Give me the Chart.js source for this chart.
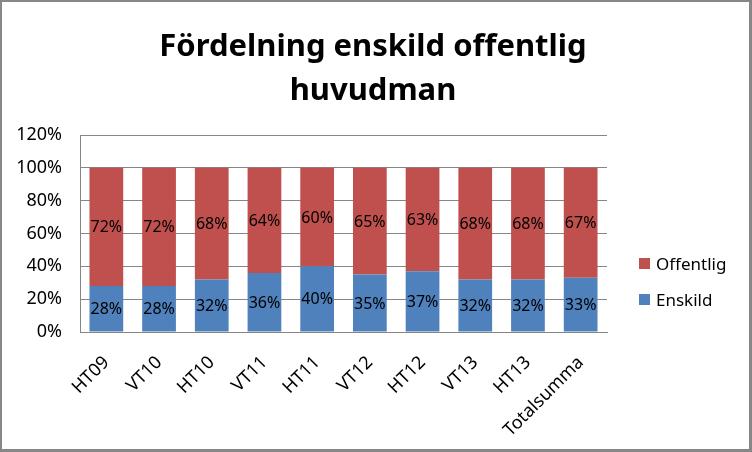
<!DOCTYPE html>
<html>
<head>
<meta charset="utf-8">
<script src="https://cdn.jsdelivr.net/npm/chart.js@4"></script>
<style>
  body { margin: 0; background: #fff; }
  #frame {
    position: relative; width: 747px; height: 447px;
    border-style: solid; border-color: #878787; border-width: 2px 3px 3px 2px;
    font-family: 'Noto Sans', sans-serif;
  }
  #title {
    position: absolute; left: 0; top: 20px; width: 742px;
    text-align: center; font-size: 31px; font-weight: bold; line-height: 44px; color: #000;
  }
  #legend { position: absolute; left: 637px; top: 249px; }
  .item { display: flex; align-items: center; height: 24px; margin-bottom: 12px; font-size: 17px; color: #000; }
  .swatch { width: 11px; height: 11px; margin-right: 6px; }
</style>
</head>
<body>
<div id="frame">
  <canvas id="chart" width="747" height="447"></canvas>
  <div id="title"></div>
  <div id="legend"></div>
</div>
<script>
const categories = ['HT09', 'VT10', 'HT10', 'VT11', 'HT11', 'VT12', 'HT12', 'VT13', 'HT13', 'Totalsumma'];
const enskild = [28, 28, 32, 36, 40, 35, 37, 32, 32, 33];
const offentlig = [72, 72, 68, 64, 60, 65, 63, 68, 68, 67];
const titleLines = ['Fördelning enskild offentlig', 'huvudman'];
const yMax = 120;
const yStep = 20;

const BLUE = '#4F81BD';
const RED = '#C0504D';
const GRID = '#868686';

Chart.defaults.font.family = "'Noto Sans', sans-serif";

// draws the percentage in the middle of each stacked segment
const barLabels = {
  id: 'barLabels',
  afterDatasetsDraw(chart) {
    const ctx = chart.ctx;
    ctx.save();
    ctx.font = '16px "Noto Sans"';
    ctx.fillStyle = '#000';
    ctx.textAlign = 'center';
    ctx.textBaseline = 'middle';
    chart.data.datasets.forEach((ds, i) => {
      chart.getDatasetMeta(i).data.forEach((bar, j) => {
        const { x, y, base } = bar.getProps(['x', 'y', 'base'], true);
        ctx.fillText(ds.data[j] + '%', x, (y + base) / 2 + 1);
      });
    });
    ctx.restore();
  }
};

const datasets = [
  { label: 'Enskild', data: enskild, backgroundColor: BLUE },
  { label: 'Offentlig', data: offentlig, backgroundColor: RED }
];

new Chart(document.getElementById('chart'), {
  type: 'bar',
  data: {
    labels: categories,
    datasets: datasets.map(d => ({ ...d, categoryPercentage: 1, barPercentage: 0.64, borderWidth: 0 }))
  },
  options: {
    responsive: false,
    animation: false,
    devicePixelRatio: 1,
    layout: { padding: { left: 0, right: 142, top: 133, bottom: 0 } },
    plugins: {
      legend: { display: false },
      tooltip: { enabled: false }
    },
    scales: {
      x: {
        stacked: true,
        grid: { display: false },
        border: { display: true, color: GRID },
        ticks: { color: '#000', font: { size: 18 }, minRotation: 45, maxRotation: 45, padding: 12 },
        afterFit(s) { s.height = 117; }
      },
      y: {
        stacked: true,
        min: 0,
        max: yMax,
        grid: { color: GRID, drawTicks: false },
        border: { display: true, color: GRID },
        ticks: { stepSize: yStep, color: '#000', font: { size: 18 }, padding: 18, callback: v => v + '%' },
        afterFit(s) { s.width = 78; }
      }
    }
  },
  plugins: [barLabels]
});

document.getElementById('title').innerHTML = titleLines.map(t => `<div>${t}</div>`).join('');

// legend, Offentlig on top like the original
const legend = document.getElementById('legend');
[...datasets].reverse().forEach(d => {
  const item = document.createElement('div');
  item.className = 'item';
  item.innerHTML = `<span class="swatch" style="background:${d.backgroundColor}"></span><span>${d.label}</span>`;
  legend.appendChild(item);
});
</script>
</body>
</html>
